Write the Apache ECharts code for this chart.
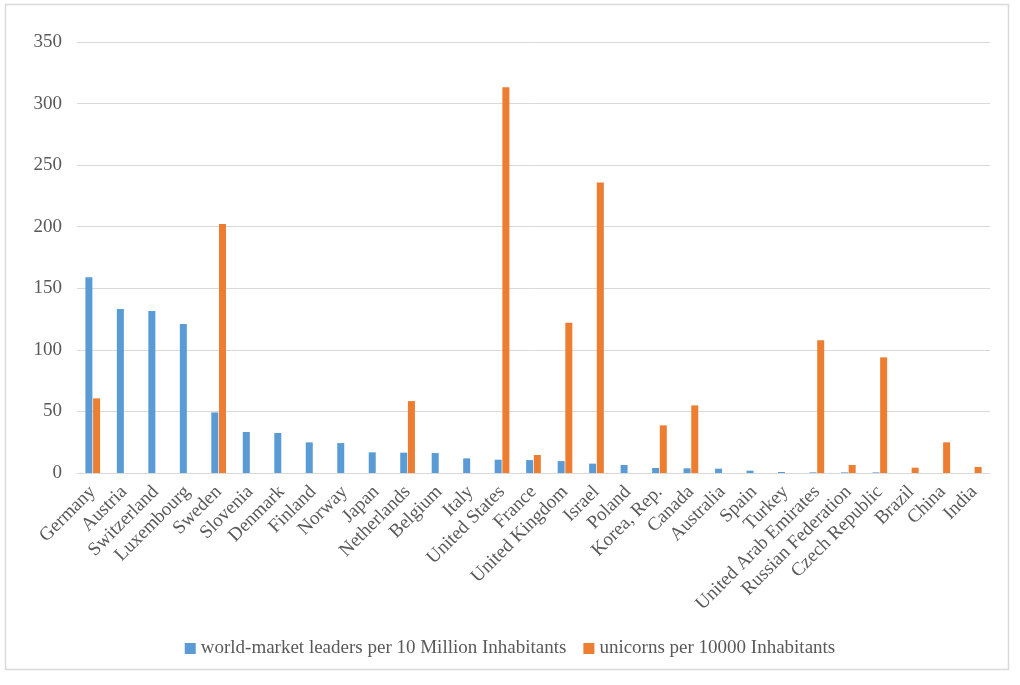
<!DOCTYPE html>
<html><head><meta charset="utf-8">
<script src="https://cdn.jsdelivr.net/npm/echarts@6/dist/echarts.min.js"></script>
<style>html,body{margin:0;padding:0;background:#fff}#c{width:1020px;height:685px}</style>
</head><body><div id="c"></div>
<script>
const categories = ["Germany","Austria","Switzerland","Luxembourg","Sweden","Slovenia","Denmark","Finland","Norway","Japan","Netherlands","Belgium","Italy","United States","France","United Kingdom","Israel","Poland","Korea, Rep.","Canada","Australia","Spain","Turkey","United Arab Emirates","Russian Federation","Czech Republic","Brazil","China","India"];
const leaders = [159.0,133.1,131.5,120.9,49.2,33.3,32.5,24.9,24.3,16.8,16.5,16.2,11.9,10.8,10.5,9.7,7.6,6.5,4.1,3.8,3.5,1.9,0.8,0.5,0.5,0.5,0,0,0];
const unicorns = [60.6,0,0,0,202.3,0,0,0,0,0,58.4,0,0,313.2,14.6,122.0,235.9,0,38.7,54.9,0,0,0,107.9,6.5,93.9,4.3,24.9,4.9];
const yTicks = [0,50,100,150,200,250,300,350];
const seriesNames = ["world-market leaders per 10 Million Inhabitants","unicorns per 10000 Inhabitants"];

const chart = echarts.init(document.getElementById('c'), null, {renderer:'canvas'});
const font = '"Liberation Serif","Times New Roman",serif';
chart.setOption({
  animation:false,
  backgroundColor:'#fff',
  textStyle:{fontFamily:font},
  graphic:[{type:'rect',shape:{x:5.5,y:4.5,width:1003,height:665},style:{fill:'none',stroke:'#d9d9d9',lineWidth:1.5}}],
  grid:{left:77,right:30,top:42,bottom:212},
  legend:{top:634,left:'center',itemWidth:11,itemHeight:11,itemGap:17,icon:'rect',
    textStyle:{fontFamily:font,fontSize:19,color:'#595959'},data:seriesNames},
  xAxis:{type:'category',data:categories,
    axisLine:{show:true,lineStyle:{color:'#d9d9d9'}},axisTick:{show:false},
    axisLabel:{rotate:45,interval:0,fontFamily:font,fontSize:19,color:'#595959',margin:16}},
  yAxis:{type:'value',min:0,max:350,interval:50,
    axisLine:{show:false},axisTick:{show:false},
    splitLine:{lineStyle:{color:'#d9d9d9',width:1}},
    axisLabel:{fontFamily:font,fontSize:19,color:'#595959',margin:15}},
  series:[
    {name:seriesNames[0],type:'bar',data:leaders,barWidth:7,barGap:'10%',itemStyle:{color:'#5b9bd5'}},
    {name:seriesNames[1],type:'bar',data:unicorns,barWidth:7,barGap:'10%',itemStyle:{color:'#ed7d31'}}
  ]
});
</script></body></html>
